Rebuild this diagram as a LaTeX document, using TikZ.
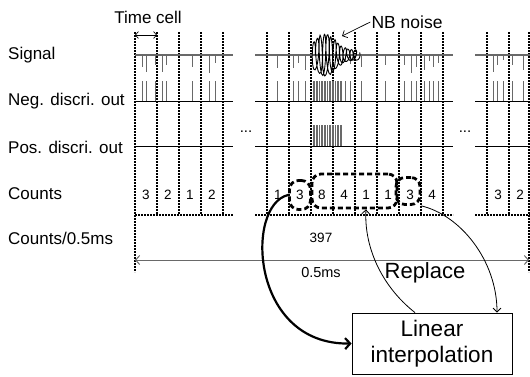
\documentclass[tikz,border=0pt]{standalone}
\usepackage{fontspec}
\setmainfont{Liberation Sans}
\usepackage[svgnames]{xcolor}
\usetikzlibrary{positioning,arrows.meta}

\begin{document}
\begin{tikzpicture}[
        x=1pt, y=-1pt,
        cellline/.style={black, line width=1.6pt, dash pattern=on 1.6pt off 1.4pt},
        sigline/.style={DimGray, line width=1.8pt},
        discline/.style={black, line width=0.9pt},
        pulse/.style={DimGray, line width=1pt},
        rowlabel/.style={anchor=west, inner sep=0pt, font=\fontsize{17}{19}\selectfont},
        cnt/.style={inner sep=0pt, font=\fontsize{13.5}{15}\selectfont},
        cntbox/.style={draw=black, line width=2.8pt, dash pattern=on 5pt off 3pt, rounded corners=9pt},
        barb/.style={-{Straight Barb[length=4pt, width=8pt]}}
    ]
    \useasboundingbox (0,0) rectangle (530,376) ;

    % row labels
    \node[rowlabel] (lsig) at (8,55) {Signal} ;
    \node[rowlabel] (lneg) at (8,101) {Neg. discri. out} ;
    \node[rowlabel] (lpos) at (8,147) {Pos. discri. out} ;
    \node[rowlabel] (lcnt) at (8,194) {Counts} ;
    \node[rowlabel] (lsum) at (8,238) {Counts/0.5ms} ;

    % time cells
    \foreach \x in {135,157,179,201,223, 267,289,311,333,355,377,399,421,443, 487,509}
        \draw[cellline] (\x,32) -- (\x,215) ;
    \draw[cellline] (135,215) -- (135,272) ;
    \draw[cellline] (529,32) -- (529,272) ;
    \foreach \a/\b in {135/233, 255/453, 475/530}
    {
        \draw[cellline] (\a,215) -- (\b,215) ;
        \draw[sigline] (\a,55) -- (\b,55) ;
        \draw[discline] (\a,101) -- (\b,101) ;
        \draw[discline] (\a,146) -- (\b,146) ;
    }

    % pulses on signal and negative discriminator
    \foreach \x/\l in {142/12, 146/17, 155/10, 162/17, 166/10, 192/12, 209/18, 215/8,
                       277/13, 293/13, 298/8, 305/15, 345/6, 350/9,
                       361/12, 385/10, 404/10, 411/18, 416/12, 424/15, 429/6, 433/12, 438/8,
                       493/17, 497/10, 503/5, 512/10, 523/15}
    {
        \draw[pulse] (\x,55) -- ++(0,\l) ;
        \draw[pulse] (\x,101) -- (\x,81) ;
    }
    \foreach \x in {313,314.6,...,342}
    {
        \draw[pulse] (\x,101) -- (\x,81) ;
        \draw[pulse] (\x,146) -- (\x,125) ;
    }

    % narrow band noise
    \draw[black, line width=0.9pt] plot[smooth, samples=200, domain=0:45, variable=\t]
        ({313 + \t + 2.4*cos(105*\t)}, {55 - (5 + 16*exp(-((\t-12)/14)^2)) * sin(105*\t + 20*sin(37*\t))}) ;
    \node[font=\fontsize{17.5}{19}\selectfont, inner sep=1pt] (nb) at (407,22) {NB noise} ;
    \draw[barb, line width=0.7pt] (nb.west) -- (342,36) ;

    \node[font=\fontsize{17}{19}\selectfont, inner sep=1pt] (tc) at (148,17) {Time cell} ;
    \draw[{Straight Barb[length=3pt, width=7pt]}-{Straight Barb[length=3pt, width=7pt]}, line width=0.7pt]
        (135,35) -- (157,35) ;

    \node[font=\fontsize{15}{17}\selectfont] at (246,132) {...} ;
    \node[font=\fontsize{15}{17}\selectfont] at (465,132) {...} ;

    % counts per cell
    \foreach \x/\n [count=\i] in {146/3, 168/2, 190/1, 212/2}
        \node[cnt] (ca\i) at (\x,195) {\n} ;
    \foreach \x/\n [count=\i] in {278/1, 300/3, 322/8, 344/4, 366/1, 388/1, 410/3, 432/4}
        \node[cnt] (cb\i) at (\x,195) {\n} ;
    \foreach \x/\n [count=\i] in {498/3, 520/2}
        \node[cnt] (cc\i) at (\x,195) {\n} ;

    \node[cntbox, minimum width=21pt, minimum height=29pt] (boxA) at (cb2) {} ;
    \node[cntbox, minimum width=85pt, minimum height=34pt] (boxB) at (354.5,191) {} ;
    \node[cntbox, minimum width=24pt, minimum height=27pt] (boxC) at (408,191) {} ;

    \node[cnt] (sum) at (321,238) {397} ;

    % 0.5ms span
    \coordinate (s0) at (135,260) ;
    \coordinate (s1) at (529,260) ;
    \draw[DimGray, line width=1pt, {Straight Barb[length=4pt, width=9pt]}-{Straight Barb[length=4pt, width=9pt]}] (s0) -- (s1) ;
    \node[font=\fontsize{14.5}{16}\selectfont, below=4pt of sum |- s0] (span) {0.5ms} ;

    \node[draw, line width=0.8pt, minimum width=160pt, minimum height=61pt, align=center,
          font=\fontsize{22.5}{26}\selectfont] (interp) at (432,343.5) {Linear\\interpolation} ;
    \node[font=\fontsize{22}{24}\selectfont] (repl) at (425,273) {Replace} ;

    \draw[-{Straight Barb[length=5pt, width=11pt]}, line width=2.2pt]
        (boxA.west) .. controls (245,205) and (250,345) .. (interp.west) ;
    \draw[barb, line width=0.8pt]
        ([xshift=-17pt]interp.north) .. controls (380,285) and (364,245) .. (cb5 |- boxB.south) ;
    \draw[barb, line width=0.8pt]
        (boxC.south east) .. controls (460,215) and (497,260) .. ([xshift=65pt]interp.north) ;

\end{tikzpicture}
\end{document}
